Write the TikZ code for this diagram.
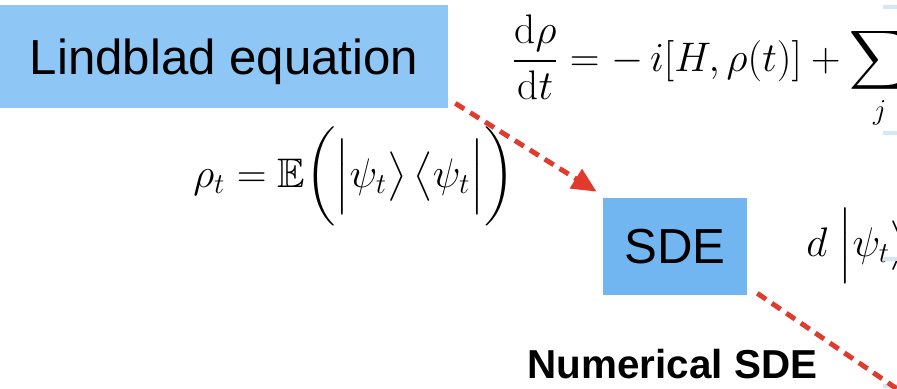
\documentclass[tikz,border=0pt]{standalone}
\usepackage{fix-cm}
\usepackage{xcolor}
\definecolor{lindblue}{HTML}{8EC7F6}
\definecolor{sdeblue}{HTML}{72B6F1}
\definecolor{arrowred}{HTML}{E03B2D}
\definecolor{edgeblue}{HTML}{D4E7F6}
\usepackage{amsmath, amssymb}
\usepackage{fontspec}
\newfontfamily\arial{Liberation Sans}
\usepackage{tikz}
\usetikzlibrary{positioning, arrows.meta}

\begin{document}
\begin{tikzpicture}[x=0.02cm, y=-0.02cm,
    box/.style={fill=#1, inner sep=0pt, text depth=0pt,
      font=\arial\fontsize{28}{32}\selectfont},
    eq/.style={inner sep=0pt, anchor=base west, font=\fontsize{23.5}{27}\selectfont},
    flow/.style={draw=arrowred, line width=2.8pt, dash pattern=on 6pt off 4pt,
      -{Triangle[length=14pt, width=12.5pt]}}]
  \useasboundingbox (0,0) rectangle (897,389);
  \clip (0,0) rectangle (897,389);
  % boxes
  \node[box=lindblue, minimum width=8.96cm, minimum height=2.06cm] (lind) at (224,56.5) {Lindblad equation};
  \node[box=sdeblue, minimum width=2.88cm, minimum height=1.94cm] (sde) at (675,246.5) {SDE};
  \node[inner sep=0pt, font=\arial\bfseries\fontsize{23}{27}\selectfont] (num) at (672.5,364.5) {Numerical SDE};
  % equations
  \node[eq] (lindeq) at (512,71) {$\displaystyle \frac{\mathrm{d}\rho}{\mathrm{d}t} = -\,i[H,\rho(t)] + \sum_j$};
  \node[eq] (expect) at (193,187) {$\rho_t = \mathbb{E}\bigg(\Big|\psi_t\big\rangle\,\big\langle\psi_t\Big|\bigg)$};
  \node[eq] (sdeeq) at (806,256) {$d\;\Big|\psi_t\big\rangle$};
  % cut-off boxes at the right edge
  \foreach \y in {5,131,257,384}
    \fill[edgeblue] (883,\y) rectangle ++(14,4);
  % arrows
  \coordinate (next) at (960,432);
  \draw[flow] ([shift={(7,-5)}]lind.south east) -- ([shift={(-6,-6)}]sde.north west);
  \draw[flow] ([shift={(10,-2)}]sde.south east) -- (next);
\end{tikzpicture}
\end{document}
